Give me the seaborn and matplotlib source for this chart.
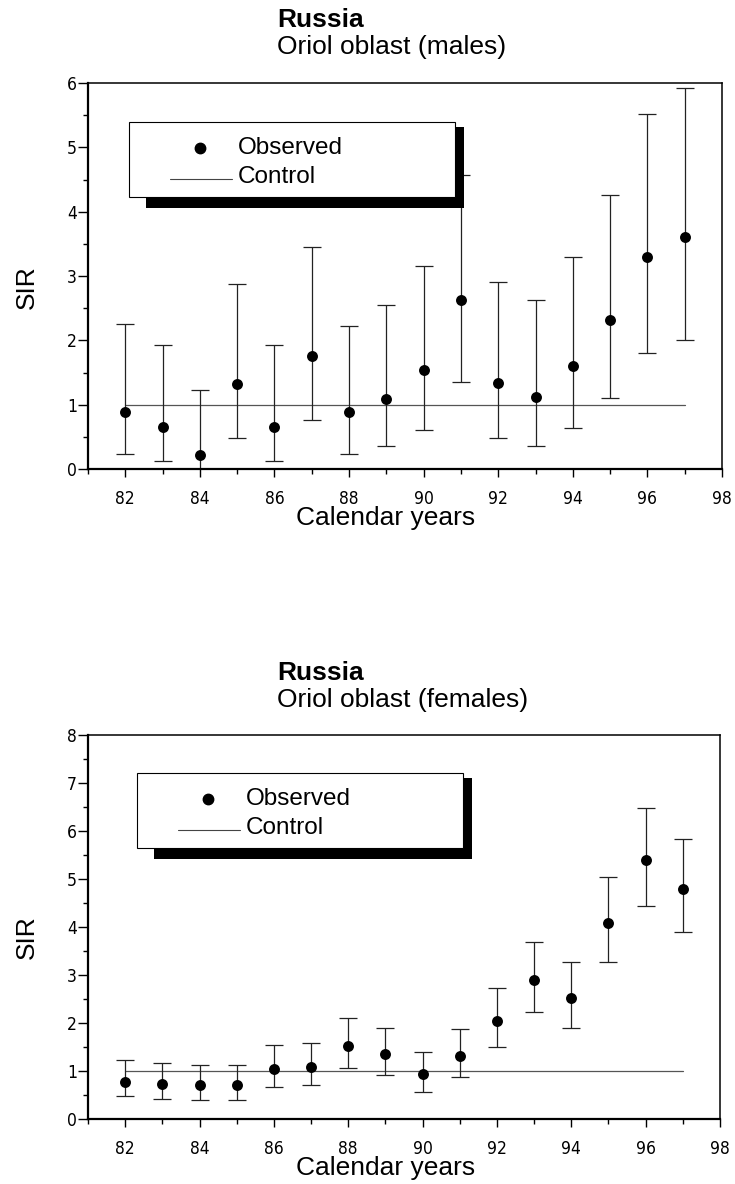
import numpy as np
import seaborn as sns
import matplotlib.pyplot as plt
from matplotlib.patches import Rectangle
from matplotlib.ticker import MultipleLocator

# data
years = np.arange(82, 98)
control = [1.0, 1.0]
control_years = [82, 97]

male_sir = np.array([0.88, 0.65, 0.22, 1.32, 0.65, 1.75, 0.88, 1.09,
                     1.54, 2.62, 1.33, 1.12, 1.60, 2.32, 3.29, 3.60])
male_lo = np.array([0.23, 0.13, 0.0, 0.48, 0.13, 0.76, 0.23, 0.35,
                    0.61, 1.35, 0.48, 0.36, 0.64, 1.11, 1.80, 2.00])
male_hi = np.array([2.25, 1.93, 1.23, 2.87, 1.93, 3.45, 2.23, 2.55,
                    3.15, 4.57, 2.90, 2.63, 3.30, 4.26, 5.52, 5.92])

female_sir = np.array([0.78, 0.73, 0.70, 0.70, 1.04, 1.09, 1.52, 1.35,
                       0.93, 1.31, 2.04, 2.90, 2.52, 4.09, 5.39, 4.79])
female_lo = np.array([0.47, 0.42, 0.40, 0.40, 0.66, 0.70, 1.06, 0.92,
                      0.56, 0.88, 1.49, 2.22, 1.90, 3.28, 4.44, 3.90])
female_hi = np.array([1.23, 1.17, 1.12, 1.12, 1.54, 1.59, 2.10, 1.90,
                      1.39, 1.87, 2.72, 3.68, 3.28, 5.04, 6.47, 5.83])

sns.set_style("ticks")
plt.rcParams['font.family'] = ['Liberation Sans', 'DejaVu Sans']
plt.rcParams['text.color'] = 'black'
plt.rcParams['axes.labelcolor'] = 'black'
plt.rcParams['xtick.color'] = 'black'
plt.rcParams['ytick.color'] = 'black'

fig = plt.figure(figsize=(7.35, 11.84), dpi=100)
W, H = 735, 1184


def fancy_legend(ax, x0, y0):
    # boxed legend with a solid black drop shadow, as in the original
    fx = lambda p: p / ax.bbox.width
    fy = lambda p: p / ax.bbox.height
    ax.add_patch(Rectangle((x0 + fx(17), y0 - fy(86)), fx(318), fy(81),
                           transform=ax.transAxes, fc='black', ec='none', zorder=5))
    ax.add_patch(Rectangle((x0, y0 - fy(75)), fx(326), fy(75),
                           transform=ax.transAxes, fc='white', ec='black', lw=0.8, zorder=6))
    ax.plot([x0 + fx(71)], [y0 - fy(26)], 'o', color='black', ms=7.5,
            transform=ax.transAxes, zorder=7)
    ax.plot([x0 + fx(41), x0 + fx(103)], [y0 - fy(57), y0 - fy(57)], color='#444444',
            lw=0.8, transform=ax.transAxes, zorder=7)
    ax.text(x0 + fx(109), y0 - fy(26), 'Observed', transform=ax.transAxes,
            fontsize=17.5, va='center', ha='left', zorder=7)
    ax.text(x0 + fx(109), y0 - fy(55), 'Control', transform=ax.transAxes,
            fontsize=17.5, va='center', ha='left', zorder=7)


def panel(box, sir, lo, hi, ymax, title_y, sex, leg_pos, ylab_y, xlab_y):
    l, t, r, b = box
    ax = fig.add_axes([l / W, 1 - b / H, (r - l) / W, (b - t) / H])
    ax.errorbar(years, sir, yerr=[sir - lo, hi - sir], fmt='none', ecolor='#222222',
                elinewidth=0.9, capsize=6.5, capthick=0.9, zorder=2)
    sns.scatterplot(x=years, y=sir, ax=ax, color='black', s=62, edgecolor='black',
                    linewidth=0, zorder=3, clip_on=False)
    ax.plot(control_years, control, color='#555555', lw=0.9, zorder=1)

    ax.set_xlim(81, 98)
    ax.set_ylim(0, ymax)
    ax.set_xticks(np.arange(82, 99, 2))
    ax.set_yticks(np.arange(0, ymax + 1, 1))
    ax.xaxis.set_minor_locator(MultipleLocator(1))
    ax.yaxis.set_minor_locator(MultipleLocator(0.5))
    ax.tick_params(axis='x', which='major', length=6, width=1, pad=9, labelsize=12.5)
    ax.tick_params(axis='x', which='minor', length=3.5, width=1)
    ax.tick_params(axis='y', which='major', length=7, width=1, pad=1, labelsize=12.5)
    ax.tick_params(axis='y', which='minor', length=3.5, width=1)
    for lbl in ax.get_xticklabels() + ax.get_yticklabels():
        lbl.set_fontfamily(['DejaVu Sans'])
        lbl.set_fontstretch('condensed')
    for side in ['left', 'bottom']:
        ax.spines[side].set_linewidth(1.6)
    for side in ['top', 'right']:
        ax.spines[side].set_linewidth(1.1)
    for s in ax.spines.values():
        s.set_color('black')

    ax.set_xlabel('Calendar years', fontsize=19)
    ax.set_ylabel('SIR', fontsize=19)
    ax.xaxis.set_label_coords((385.5 - l) / (r - l), (b - xlab_y) / (b - t))
    ax.xaxis.label.set_va('center')
    ax.yaxis.set_label_coords((27 - l) / (r - l), (b - ylab_y) / (b - t))
    ax.yaxis.label.set_va('center')

    fancy_legend(ax, (leg_pos[0] - l) / (r - l), (b - leg_pos[1]) / (b - t))

    fig.text(277 / W, 1 - title_y / H, 'Russia', fontsize=19, fontweight='bold',
             ha='left', va='center')
    fig.text(277 / W, 1 - (title_y + 27) / H, 'Oriol oblast (' + sex + ')', fontsize=19,
             ha='left', va='center')
    return ax


panel((88, 83, 722, 469), male_sir, male_lo, male_hi, 6, 20, 'males',
      (129, 122), 287, 518)
panel((88, 735, 720, 1119), female_sir, female_lo, female_hi, 8, 673, 'females',
      (137, 773), 937, 1168)

fig.savefig('out.png', dpi=100)
